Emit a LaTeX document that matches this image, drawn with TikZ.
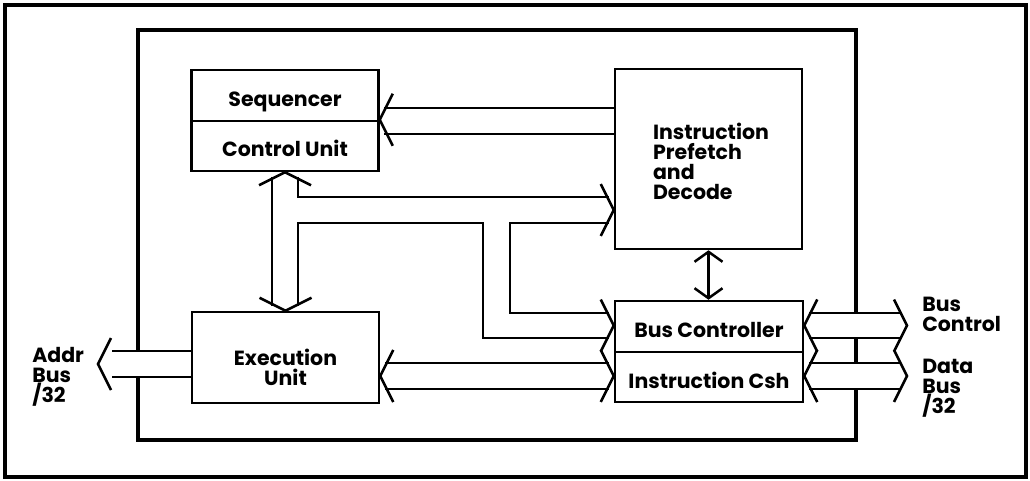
\documentclass[tikz,border=0pt]{standalone}
\usepackage{fontspec}
\setmainfont{Poppins}
\usetikzlibrary{arrows.meta}

\tikzset{
  unit/.style={draw, minimum width=187pt, inner sep=0pt, align=center,
    text height=22pt, text depth=0pt},
  txt/.style={align=left, inner sep=0pt},
  buschev/.pic={\draw (13,-26) -- (0,0) -- (13,26);},
  barb/.tip={Straight Barb[length=10pt,width=28pt]}
}

\begin{document}
\begin{tikzpicture}[x=1pt, y=-1pt, line width=2.5pt, font=\fontsize{20.5}{20}\selectfont\bfseries]
    \useasboundingbox (0,0) rectangle (1030,481);
    % frame and chip outline (broken where the buses leave)
    \draw[line width=4pt] (5,5) rectangle (1026,477);
    \draw[line width=4.5pt] (138,351) -- (138,30) -- (856,30) -- (856,313)
        (856,338) -- (856,363) (856,389) -- (856,440) -- (138,440) -- (138,377);

    % blocks
    \node[unit, minimum height=51pt] (seq) at (285,95.5) {Sequencer};
    \node[unit, minimum height=50pt] (ctl) at (285,146) {Control Unit};
    \node[unit, minimum height=180pt] (ipd) at (708.5,159) {};
    \node[txt] (ipdtext) at (711,161) {Instruction\\Prefetch\\and\\Decode};
    \node[unit, minimum height=91pt] (exe) at (285.5,357.5) {};
    \node[txt, align=center] (exetext) at (285.5,367) {Execution\\Unit};
    \node[unit, minimum width=188pt, minimum height=51pt] (bcu) at (709,326.5) {Bus Controller};
    \node[unit, minimum width=188pt, minimum height=50pt] (ics) at (709,377) {Instruction Csh};

    % prefetch -> sequencer/control
    \draw (ipd.west |- 0,108) -- (384,108);
    \draw (ipd.west |- 0,134) -- (384,134);
    \pic at (ctl.north east) {buschev};

    % internal bus: control, execution, prefetch, bus controller
    \draw (272,177) -- (272,306);
    \draw (298,177) -- (298,197) -- (609,197);
    \draw (298,306) -- (298,223) -- (483,223) -- (483,338) -- (609,338);
    \draw (609,223) -- (510,223) -- (510,313) -- (609,313);
    \pic[rotate=-90] at (ctl.south) {buschev};
    \pic[rotate=90] at (exe.north) {buschev};
    \pic[rotate=180] at (ipd.west |- 0,210) {buschev};
    \pic[rotate=180] at (bcu.west |- 0,325.5) {buschev};

    % execution <-> cache
    \draw (385,363) -- (609,363);
    \draw (385,389) -- (609,389);
    \pic at (exe.east |- 0,376) {buschev};
    \pic[rotate=180] at (ics.west |- 0,376) {buschev};

    \draw[barb-barb] (ipd.south) -- (ipd.south |- bcu.north);

    % external buses
    \coordinate (ctlout) at (907,325.5);
    \coordinate (dataout) at (907,376);
    \coordinate (addrout) at (98,364);
    \draw (809,313) -- (901,313);
    \draw (809,338) -- (901,338);
    \draw (809,363) -- (901,363);
    \draw (809,389) -- (901,389);
    \pic at (bcu.east |- 0,325.5) {buschev};
    \pic at (ics.east |- 0,376) {buschev};
    \pic[rotate=180] at (ctlout) {buschev};
    \pic[rotate=180] at (dataout) {buschev};
    \draw (exe.west |- 0,351) -- (112,351);
    \draw (exe.west |- 0,377) -- (112,377);
    \pic at (addrout) {buschev};

    \node[txt, anchor=west] (addr) at (31,377) {Addr\\Bus\\/32};
    \node[txt, anchor=west] (busctl) at (921,314.5) {Bus\\Control};
    \node[txt, anchor=west] (databus) at (921,388) {Data\\Bus\\/32};
\end{tikzpicture}
\end{document}
